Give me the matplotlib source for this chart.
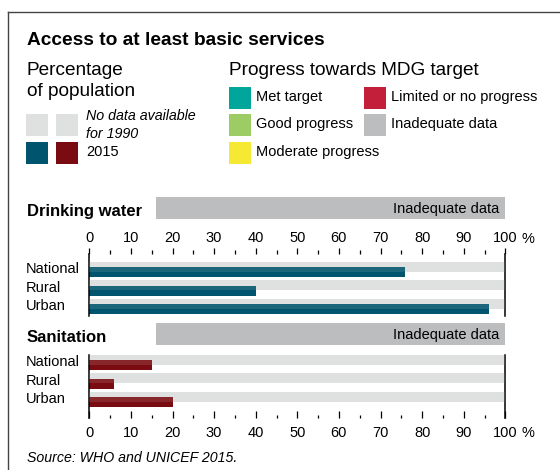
import numpy as np
import matplotlib
matplotlib.use("Agg")
import matplotlib.pyplot as plt
from matplotlib.patches import Rectangle
from matplotlib.lines import Line2D
import matplotlib.transforms as mtransforms

plt.rcParams['font.family'] = ['Liberation Sans', 'DejaVu Sans']

# Data
areas = ["National", "Rural", "Urban"]
water_2015 = [76, 40, 96]
sanit_2015 = [15, 6, 20]
no_data_1990 = [100, 100, 100]

# Colours
c_water = '#00546d'
c_sanit = '#7a0c11'
c_light = '#dfe0e0'

progress_labels = ["Met target", "Good progress", "Moderate progress",
                   "Limited or no progress", "Inadequate data"]
progress_colors = ['#00a69c', '#9dcb64', '#f6e933', '#c41f3a', '#bcbdbf']

W, H = 560, 470
fig = plt.figure(figsize=(W / 100, H / 100), dpi=100)


def fx(px):
    return px / W


def fy(py):
    return 1 - py / H


# outer frame (top and left only)
fig.add_artist(Line2D([fx(8), fx(560)], [fy(12), fy(12)], color='#444444', lw=1))
fig.add_artist(Line2D([fx(8), fx(8)], [fy(12), fy(470)], color='#444444', lw=1))

# headings
fig.text(fx(27), fy(45), "Access to at least basic services", fontsize=13.8,
         fontweight='bold', va='baseline')
fig.text(fx(27), fy(75), "Percentage", fontsize=13.7, va='baseline')
fig.text(fx(27), fy(96.5), "of population", fontsize=13.7, va='baseline')
fig.text(fx(229), fy(75), "Progress towards MDG target", fontsize=13.7, va='baseline')


def swatch(x, y, color):
    fig.add_artist(Rectangle((fx(x), fy(y + 22)), 22 / W, 22 / H,
                             transform=fig.transFigure, color=color, lw=0))


# left legend
swatch(26, 114, c_light)
swatch(56, 114, c_light)
swatch(26, 142, c_water)
swatch(56, 142, c_sanit)
fig.text(fx(86), fy(120.5), "No data available", fontsize=10.3, style='italic', va='baseline')
fig.text(fx(86), fy(137.5), "for 1990", fontsize=10.3, style='italic', va='baseline')
fig.text(fx(86), fy(156), "2015", fontsize=10.5, va='baseline')

# right legend
legend_pos = [(229, 87), (229, 114), (229, 142), (364, 87), (364, 114)]
for (lx, ly), lab, col in zip(legend_pos, progress_labels, progress_colors):
    swatch(lx, ly, col)
    fig.text(fx(lx + 27), fy(ly + 14), lab, fontsize=10.5, va='baseline')

# section banners
for title, ytop in [("Drinking water", 197), ("Sanitation", 323)]:
    fig.add_artist(Rectangle((fx(156), fy(ytop + 22)), (505 - 156) / W, 22 / H,
                             transform=fig.transFigure, color=progress_colors[4], lw=0))
    fig.text(fx(499), fy(ytop + 15.5), "Inadequate data", fontsize=10.5,
             ha='right', va='baseline')
    fig.text(fx(27), fy(ytop + 19), title, fontsize=12, fontweight='bold', va='baseline')

x0, x1 = 89.3, 505.3
row = 18.6
bh = 10 / row
off = 2.7 / row


def panel(top, bottom, row0, values, color, ticks_top):
    ax = fig.add_axes([fx(x0), fy(bottom), (x1 - x0) / W, (bottom - top) / H])
    y = np.arange(len(areas))
    ax.barh(y - off, no_data_1990, height=bh, color=c_light, zorder=1)
    ax.barh(y + off, values, height=bh, color=color, zorder=2)
    ax.barh(y - off, no_data_1990, height=bh, color=c_light, alpha=0.13, zorder=3)
    ax.set_xlim(0, 100)
    ax.set_ylim((bottom - row0) / row, -(row0 - top) / row)
    ax.set_facecolor('none')
    for s in ['top', 'bottom']:
        ax.spines[s].set_visible(False)
    for s in ['left', 'right']:
        ax.spines[s].set_linewidth(1.1)
    ax.set_yticks([])
    ax.set_xticks(np.arange(0, 101, 10))
    ax.set_xticks(np.arange(5, 100, 10), minor=True)
    ax.tick_params(axis='x', which='both', labelsize=10.5, width=0.9, color='black')
    if ticks_top:
        ax.xaxis.tick_top()
        ax.tick_params(axis='x', which='major', direction='out', length=4.3, pad=2)
        ax.tick_params(axis='x', which='minor', direction='out', length=2.9)
        yoff = 8.1
    else:
        ax.tick_params(axis='x', which='major', direction='in', length=5, pad=5.5)
        ax.tick_params(axis='x', which='minor', direction='in', length=2.3)
        yoff = -13.9
    ax.annotate("%", xy=(100, 1 if ticks_top else 0),
                xycoords=('data', 'axes fraction'),
                xytext=(11.8, yoff), textcoords='offset points',
                fontsize=10.5, va='baseline', ha='left', annotation_clip=False)
    trans = mtransforms.blended_transform_factory(fig.transFigure, ax.transData)
    for i, name in enumerate(areas):
        ax.text(fx(26), i + 0.2, name, transform=trans, fontsize=10.5,
                va='baseline', ha='left', clip_on=False)
    return ax


panel(254, 316, 269.5, water_2015, c_water, True)
panel(355, 418, 362.5, sanit_2015, c_sanit, False)

fig.text(fx(27), fy(461.5), "Source: WHO and UNICEF 2015.", fontsize=10.2,
         style='italic', va='baseline')

fig.savefig("out.png", dpi=100)
